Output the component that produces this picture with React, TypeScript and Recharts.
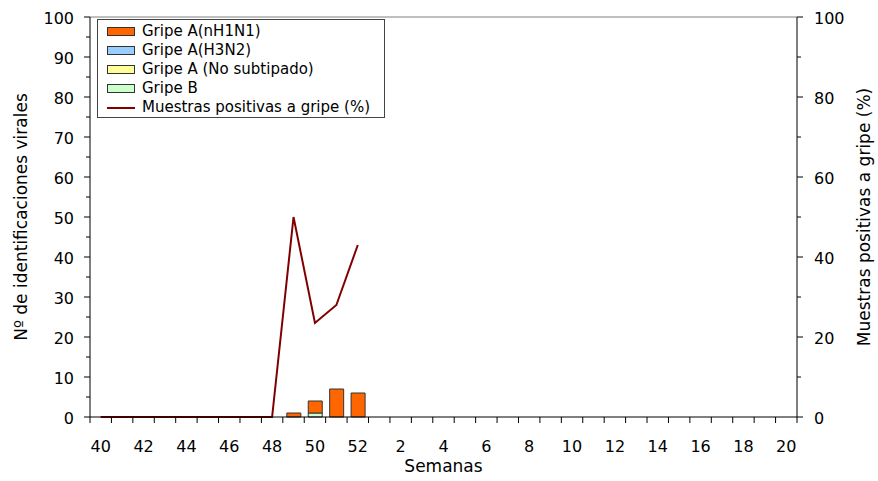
import { ComposedChart, Bar, Line, XAxis, YAxis, Legend, ReferenceLine } from 'recharts';

const weeks = ['40', '41', '42', '43', '44', '45', '46', '47', '48', '49', '50', '51', '52', '1', '2', '3', '4', '5', '6', '7', '8', '9', '10', '11', '12', '13', '14', '15', '16', '17', '18', '19', '20'];
const gripeAnH1N1 = [0, 0, 0, 0, 0, 0, 0, 0, 0, 1, 3, 7, 6, 0, 0, 0, 0, 0, 0, 0, 0, 0, 0, 0, 0, 0, 0, 0, 0, 0, 0, 0, 0];
const gripeAH3N2 = [0, 0, 0, 0, 0, 0, 0, 0, 0, 0, 0, 0, 0, 0, 0, 0, 0, 0, 0, 0, 0, 0, 0, 0, 0, 0, 0, 0, 0, 0, 0, 0, 0];
const gripeANoSub = [0, 0, 0, 0, 0, 0, 0, 0, 0, 0, 0, 0, 0, 0, 0, 0, 0, 0, 0, 0, 0, 0, 0, 0, 0, 0, 0, 0, 0, 0, 0, 0, 0];
const gripeB = [0, 0, 0, 0, 0, 0, 0, 0, 0, 0, 1, 0, 0, 0, 0, 0, 0, 0, 0, 0, 0, 0, 0, 0, 0, 0, 0, 0, 0, 0, 0, 0, 0];
const positivas = [0, 0, 0, 0, 0, 0, 0, 0, 0, 50, 23.5, 28, 43, null, null, null, null, null, null, null, null, null, null, null, null, null, null, null, null, null, null, null, null];

const leftTicks = [0, 5, 10, 15, 20, 25, 30, 35, 40, 45, 50, 55, 60, 65, 70, 75, 80, 85, 90, 95, 100];
const rightTicks = [0, 10, 20, 30, 40, 50, 60, 70, 80, 90, 100];

const W = 878;
const H = 481;
const LEFT = 90;
const RIGHT = 81;
const TOP = 17;
const BOTTOM = 64;
const BW = (W - LEFT - RIGHT) / weeks.length;
const FONT = '"DejaVu Sans", Verdana, sans-serif';

const data = weeks.map((w, i) => ({
  week: w,
  nH1N1: gripeAnH1N1[i],
  H3N2: gripeAH3N2[i],
  noSub: gripeANoSub[i],
  B: gripeB[i],
  pct: positivas[i],
}));

const legendItems = [
  { label: 'Gripe A(nH1N1)', color: '#FF6600', type: 'rect' },
  { label: 'Gripe A(H3N2)', color: '#99CCFF', type: 'rect' },
  { label: 'Gripe A (No subtipado)', color: '#FFFF99', type: 'rect' },
  { label: 'Gripe B', color: '#CCFFCC', type: 'rect' },
  { label: 'Muestras positivas a gripe (%)', color: '#800000', type: 'line' },
];

function LegendBox() {
  return (
    <div style={{ border: '1px solid #444', background: '#fff', paddingTop: 2, fontFamily: FONT, fontSize: 15, color: '#000' }}>
      {legendItems.map((it) => (
        <div key={it.label} style={{ display: 'flex', alignItems: 'center', height: 19 }}>
          {it.type === 'rect' ? (
            <div style={{ marginLeft: 9, width: 26, height: 7, background: it.color, border: '1px solid #333', marginRight: 7 }} />
          ) : (
            <div style={{ marginLeft: 9, width: 28, height: 2, background: it.color, marginRight: 7 }} />
          )}
          <span style={{ lineHeight: '19px', whiteSpace: 'nowrap' }}>{it.label}</span>
        </div>
      ))}
    </div>
  );
}

// ticks sit on the week boundaries, labels on every other week
function WeekTick(props: any) {
  const { x, y, index } = props;
  const axisY = y - 13;
  const last = index === weeks.length - 1;
  return (
    <g>
      <line x1={x - BW / 2} x2={x - BW / 2} y1={axisY} y2={axisY + 6} stroke="#000" />
      {last && <line x1={x + BW / 2} x2={x + BW / 2} y1={axisY} y2={axisY + 6} stroke="#000" />}
      {index % 2 === 0 && (
        <text x={x} y={axisY + 35} textAnchor="middle" fontSize={16} fontFamily={FONT} fill="#000">
          {props.payload.value}
        </text>
      )}
    </g>
  );
}

function LeftTick(props: any) {
  const { x, y, payload } = props;
  const axisX = x + 16;
  const major = payload.value % 10 === 0;
  return (
    <g>
      <line x1={axisX} x2={axisX - (major ? 6 : 4)} y1={y} y2={y} stroke="#000" />
      {major && (
        <text x={x} y={y} dy="0.42em" textAnchor="end" fontSize={16} fontFamily={FONT} fill="#000">
          {payload.value}
        </text>
      )}
    </g>
  );
}

function RightTick(props: any) {
  const { x, y, payload } = props;
  const axisX = x - 17;
  const major = payload.value % 20 === 0;
  return (
    <g>
      <line x1={axisX} x2={axisX + (major ? 6 : 4)} y1={y} y2={y} stroke="#000" />
      {major && (
        <text x={x} y={y} dy="0.42em" textAnchor="start" fontSize={16} fontFamily={FONT} fill="#000">
          {payload.value}
        </text>
      )}
    </g>
  );
}

function LeftTitle() {
  const cy = TOP + (H - TOP - BOTTOM) / 2;
  return (
    <text x={27} y={cy} transform={`rotate(-90, 27, ${cy})`} textAnchor="middle" fontSize={17} fontFamily={FONT} fill="#000">
      Nº de identificaciones virales
    </text>
  );
}

function RightTitle() {
  const cy = TOP + (H - TOP - BOTTOM) / 2;
  return (
    <text x={870} y={cy} transform={`rotate(-90, 870, ${cy})`} textAnchor="middle" fontSize={17} fontFamily={FONT} fill="#000">
      Muestras positivas a gripe (%)
    </text>
  );
}

function BottomTitle() {
  const cx = LEFT + (W - LEFT - RIGHT) / 2;
  return (
    <text x={cx} y={472} textAnchor="middle" fontSize={17} fontFamily={FONT} fill="#000">
      Semanas
    </text>
  );
}

export default function App() {
  return (
    <div style={{ position: 'absolute', left: 0, top: 0, width: W, height: H, background: '#fff' }}>
      <ComposedChart width={W} height={H} data={data} margin={{ top: TOP, right: 0, bottom: 0, left: 0 }}>
        <XAxis
          dataKey="week"
          interval={0}
          height={BOTTOM}
          tickLine={false}
          tickSize={5}
          tickMargin={8}
          axisLine={{ stroke: '#000' }}
          tick={<WeekTick />}
          label={<BottomTitle />}
        />
        <YAxis
          yAxisId="left"
          width={LEFT}
          domain={[0, 100]}
          ticks={leftTicks}
          interval={0}
          tickLine={false}
          tickSize={6}
          tickMargin={10}
          axisLine={{ stroke: '#000' }}
          tick={<LeftTick />}
          label={<LeftTitle />}
        />
        <YAxis
          yAxisId="right"
          orientation="right"
          width={RIGHT}
          domain={[0, 100]}
          ticks={rightTicks}
          interval={0}
          tickLine={false}
          tickSize={6}
          tickMargin={11}
          axisLine={{ stroke: '#000' }}
          tick={<RightTick />}
          label={<RightTitle />}
        />
        <ReferenceLine yAxisId="left" y={100} stroke="#808080" />
        <Legend
          layout="horizontal"
          verticalAlign="middle"
          align="center"
          content={<LegendBox />}
          wrapperStyle={{ left: 97, top: 19, width: 288, height: 100 }}
        />
        <Bar yAxisId="left" dataKey="B" stackId="a" fill="#CCFFCC" stroke="#333" barSize={14} isAnimationActive={false} />
        <Bar yAxisId="left" dataKey="noSub" stackId="a" fill="#FFFF99" stroke="#333" barSize={14} isAnimationActive={false} />
        <Bar yAxisId="left" dataKey="H3N2" stackId="a" fill="#99CCFF" stroke="#333" barSize={14} isAnimationActive={false} />
        <Bar yAxisId="left" dataKey="nH1N1" stackId="a" fill="#FF6600" stroke="#333" barSize={14} isAnimationActive={false} />
        <Line
          yAxisId="right"
          type="linear"
          dataKey="pct"
          stroke="#800000"
          strokeWidth={2}
          dot={false}
          activeDot={false}
          isAnimationActive={false}
        />
      </ComposedChart>
    </div>
  );
}
